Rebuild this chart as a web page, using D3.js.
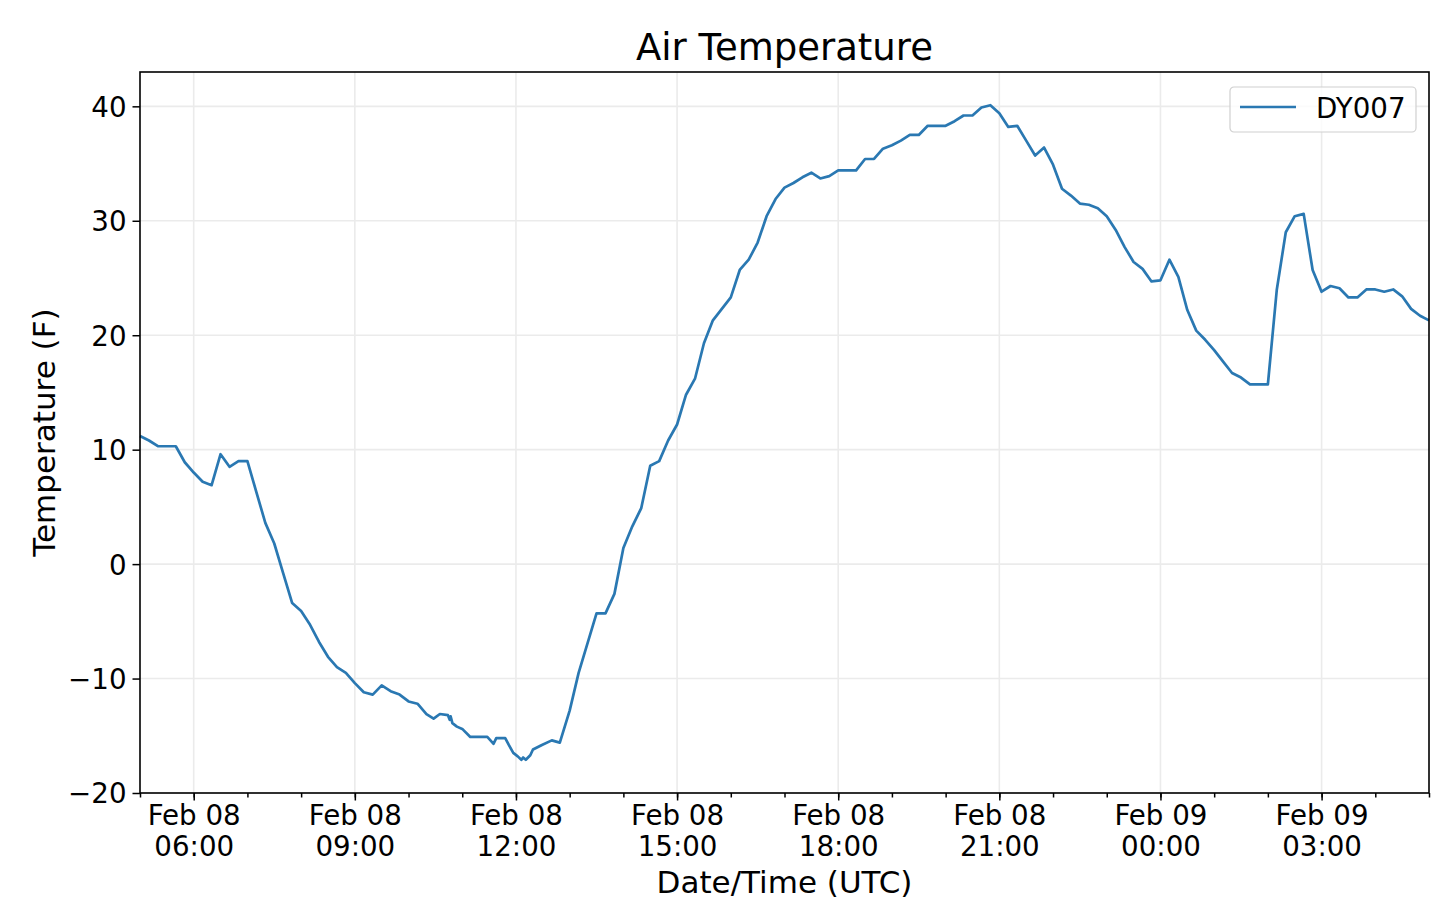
<!DOCTYPE html>
<html>
<head>
<meta charset="utf-8">
<script src="https://cdn.jsdelivr.net/npm/d3@7/dist/d3.min.js"></script>
<style>
  body { margin: 0; background: #fff; }
  svg { display: block; }
  svg text { font-family: "DejaVu Sans", "Liberation Sans", sans-serif; }
</style>
</head>
<body>
<svg id="chart" width="1440" height="916"></svg>
<script>
/* station DY007, air temperature, UTC */
var station = "DY007";
var times = [
  "02-08 05:00","02-08 05:10","02-08 05:20","02-08 05:30","02-08 05:40","02-08 05:50",
  "02-08 06:00","02-08 06:10","02-08 06:20","02-08 06:30","02-08 06:40","02-08 06:50",
  "02-08 07:00","02-08 07:10","02-08 07:20","02-08 07:30","02-08 07:40","02-08 07:50",
  "02-08 08:00","02-08 08:10","02-08 08:20","02-08 08:30","02-08 08:40","02-08 08:50",
  "02-08 09:00","02-08 09:10","02-08 09:20","02-08 09:30","02-08 09:40","02-08 09:50",
  "02-08 10:00","02-08 10:10","02-08 10:20","02-08 10:28","02-08 10:35","02-08 10:44",
  "02-08 10:46","02-08 10:47","02-08 10:49","02-08 10:54","02-08 11:00","02-08 11:09",
  "02-08 11:20","02-08 11:28","02-08 11:35","02-08 11:38","02-08 11:48","02-08 11:52",
  "02-08 11:57","02-08 12:02","02-08 12:06","02-08 12:08","02-08 12:11","02-08 12:16",
  "02-08 12:19","02-08 12:29","02-08 12:40","02-08 12:49",
  "02-08 13:00","02-08 13:10","02-08 13:20","02-08 13:30","02-08 13:40","02-08 13:50",
  "02-08 14:00","02-08 14:10","02-08 14:20","02-08 14:30","02-08 14:40","02-08 14:50",
  "02-08 15:00","02-08 15:10","02-08 15:20","02-08 15:30","02-08 15:40","02-08 15:50",
  "02-08 16:00","02-08 16:10","02-08 16:20","02-08 16:30","02-08 16:40","02-08 16:50",
  "02-08 17:00","02-08 17:10","02-08 17:20","02-08 17:30","02-08 17:40","02-08 17:50",
  "02-08 18:00","02-08 18:10","02-08 18:20","02-08 18:30","02-08 18:40","02-08 18:50",
  "02-08 19:00","02-08 19:10","02-08 19:20","02-08 19:30","02-08 19:40","02-08 19:50",
  "02-08 20:00","02-08 20:10","02-08 20:20","02-08 20:30","02-08 20:40","02-08 20:50",
  "02-08 21:00","02-08 21:10","02-08 21:20","02-08 21:30","02-08 21:40","02-08 21:50",
  "02-08 22:00","02-08 22:10","02-08 22:20","02-08 22:30","02-08 22:40","02-08 22:50",
  "02-08 23:00","02-08 23:10","02-08 23:20","02-08 23:30","02-08 23:40","02-08 23:50",
  "02-09 00:00","02-09 00:10","02-09 00:20","02-09 00:30","02-09 00:40","02-09 00:50",
  "02-09 01:00","02-09 01:10","02-09 01:20","02-09 01:30","02-09 01:40","02-09 01:50",
  "02-09 02:00","02-09 02:10","02-09 02:20","02-09 02:30","02-09 02:40","02-09 02:50",
  "02-09 03:00","02-09 03:10","02-09 03:20","02-09 03:30","02-09 03:40","02-09 03:50",
  "02-09 04:00","02-09 04:10","02-09 04:20","02-09 04:30","02-09 04:40","02-09 04:50",
  "02-09 05:00"
];
var temps = [
  11.2, 10.8, 10.3, 10.3, 10.3, 8.9,
  8.0, 7.2, 6.9, 9.6, 8.5, 9.0,
  9.0, 6.3, 3.6, 1.8, -0.8, -3.4,
  -4.1, -5.3, -6.8, -8.1, -9.0, -9.5,
  -10.4, -11.2, -11.4, -10.6, -11.1, -11.4,
  -12.0, -12.2, -13.1, -13.5, -13.1, -13.2,
  -13.6, -13.3, -13.9, -14.2, -14.4, -15.1,
  -15.1, -15.1, -15.7, -15.2, -15.2, -15.8,
  -16.5, -16.8, -17.1, -16.9, -17.1, -16.7,
  -16.2, -15.8, -15.4, -15.6,
  -12.8, -9.5, -6.9, -4.3, -4.3, -2.6,
  1.4, 3.3, 4.9, 8.6, 9.0, 10.8,
  12.2, 14.8, 16.2, 19.3, 21.3, 22.3,
  23.3, 25.7, 26.6, 28.1, 30.4, 31.9,
  32.9, 33.3, 33.8, 34.2, 33.7, 33.9,
  34.4, 34.4, 34.4, 35.4, 35.4, 36.3,
  36.6, 37.0, 37.5, 37.5, 38.3, 38.3,
  38.3, 38.7, 39.2, 39.2, 39.9, 40.1,
  39.4, 38.2, 38.3, 37.0, 35.7, 36.4,
  34.9, 32.8, 32.2, 31.5, 31.4, 31.1,
  30.4, 29.2, 27.7, 26.4, 25.8, 24.7,
  24.8, 26.6, 25.1, 22.2, 20.4, 19.6,
  18.7, 17.7, 16.7, 16.3, 15.7, 15.7,
  15.7, 24.0, 29.0, 30.4, 30.6, 25.7,
  23.8, 24.3, 24.1, 23.3, 23.3, 24.0,
  24.0, 23.8, 24.0, 23.4, 22.3, 21.7,
  21.3
];
var yTicks = [-20, -10, 0, 10, 20, 30, 40];
var xStart = "02-08 05:00", xEnd = "02-09 05:00";

var parse = d3.utcParse("%Y-%m-%d %H:%M");
function toDate(s){ return parse("2019-" + s); }
var data = times.map(function(t, i){ return {t: toDate(t), v: temps[i]}; });

var pLeft = 140, pRight = 1429, pTop = 72, pBottom = 793;
var svg = d3.select("#chart");

var x = d3.scaleUtc().domain([toDate(xStart), toDate(xEnd)]).range([pLeft, pRight]);
var y = d3.scaleLinear().domain([-20, 43]).range([pBottom, pTop]);

var majors = d3.utcHour.every(3).range(toDate("02-08 06:00"), toDate(xEnd));
var minors = d3.utcHour.every(1).range(toDate(xStart), d3.utcMinute.offset(toDate(xEnd), 1));

// grid
svg.append("g").selectAll("line").data(majors).enter().append("line")
	.attr("x1", function(d){ return x(d); }).attr("x2", function(d){ return x(d); })
	.attr("y1", pTop).attr("y2", pBottom)
	.attr("stroke", "#ebebeb").attr("stroke-width", 1.6);
svg.append("g").selectAll("line").data(yTicks).enter().append("line")
	.attr("x1", pLeft).attr("x2", pRight)
	.attr("y1", function(d){ return y(d); }).attr("y2", function(d){ return y(d); })
	.attr("stroke", "#ebebeb").attr("stroke-width", 1.6);

// line
var line = d3.line().x(function(d){ return x(d.t); }).y(function(d){ return y(d.v); });
svg.append("path").datum(data)
	.attr("d", line)
	.attr("fill", "none")
	.attr("stroke", "#2a78b2")
	.attr("stroke-width", 2.7)
	.attr("stroke-linejoin", "round");

// axes
var fmtDay = d3.utcFormat("%b %d"), fmtHour = d3.utcFormat("%H:%M");
var xMinor = svg.append("g").attr("transform", "translate(0," + pBottom + ")")
	.call(d3.axisBottom(x).tickValues(minors).tickSize(4.5).tickFormat(""));
var xAxis = svg.append("g").attr("transform", "translate(0," + pBottom + ")")
	.call(d3.axisBottom(x).tickValues(majors).tickSize(7.5).tickFormat(""));
xAxis.selectAll(".tick").append("text")
	.attr("fill", "#000").attr("text-anchor", "middle")
	.style("font-size", "27.7px")
	.each(function(d){
		var t = d3.select(this);
		t.append("tspan").attr("x", 0).attr("y", 32).text(fmtDay(d));
		t.append("tspan").attr("x", 0).attr("y", 63).text(fmtHour(d));
	});

var yAxis = svg.append("g").attr("transform", "translate(" + pLeft + ",0)")
	.call(d3.axisLeft(y).tickValues(yTicks).tickSize(7.5).tickPadding(6)
		.tickFormat(function(d){ return d < 0 ? "\u2212" + Math.abs(d) : d; }));
yAxis.selectAll("text").attr("fill", "#000").style("font-size", "27.7px").attr("dy", "0.36em");

[xMinor, xAxis, yAxis].forEach(function(g){
	g.select(".domain").remove();
	g.selectAll(".tick line").attr("stroke", "#000").attr("stroke-width", 1.5);
});

// frame
svg.append("rect")
	.attr("x", pLeft).attr("y", pTop)
	.attr("width", pRight - pLeft).attr("height", pBottom - pTop)
	.attr("fill", "none").attr("stroke", "#000").attr("stroke-width", 1.6);

// labels
svg.append("text").attr("x", (pLeft + pRight)/2).attr("y", 60)
	.attr("text-anchor", "middle").style("font-size", "37px").text("Air Temperature");
svg.append("text").attr("x", (pLeft + pRight)/2).attr("y", 893)
	.attr("text-anchor", "middle").style("font-size", "31px").text("Date/Time (UTC)");
svg.append("text").attr("transform", "translate(55," + (pTop + pBottom)/2 + ")rotate(-90)")
	.attr("text-anchor", "middle").style("font-size", "31px").text("Temperature (F)");

// legend
var lg = svg.append("g").attr("transform", "translate(1230,87)");
lg.append("rect").attr("width", 186).attr("height", 45).attr("rx", 4)
	.attr("fill", "#fff").attr("fill-opacity", 0.8)
	.attr("stroke", "#d0d0d0").attr("stroke-width", 1.2);
lg.append("line").attr("x1", 10).attr("x2", 66).attr("y1", 20).attr("y2", 20)
	.attr("stroke", "#2a78b2").attr("stroke-width", 2.7);
lg.append("text").attr("x", 86).attr("y", 31).style("font-size", "27.7px").text(station);
</script>
</body>
</html>
